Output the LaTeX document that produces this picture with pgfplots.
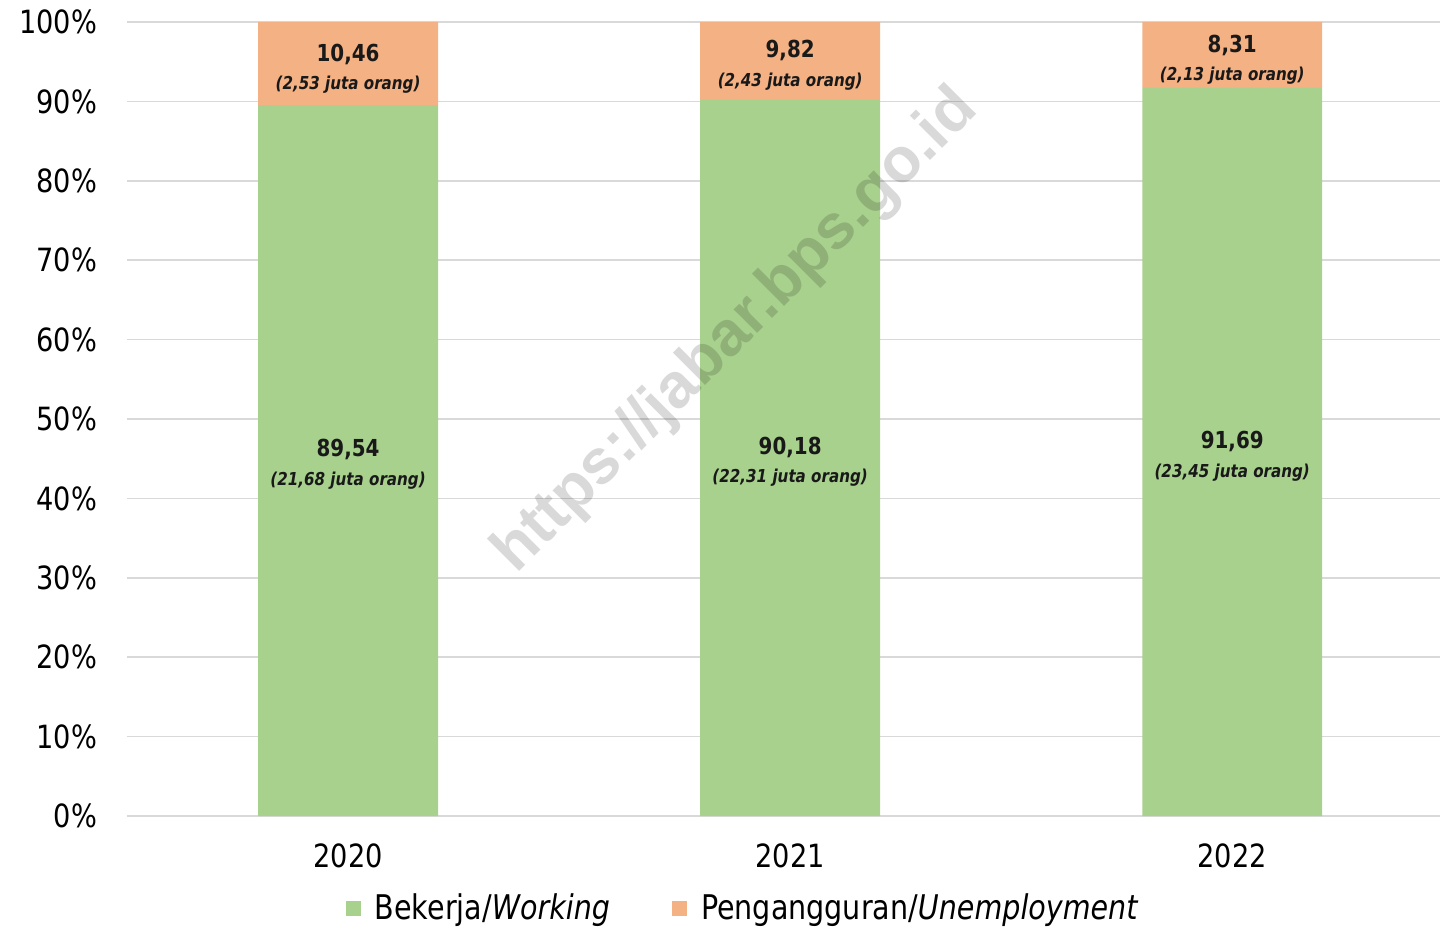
\documentclass[border=0pt]{standalone}
\usepackage{pgfplots}
\pgfplotsset{compat=1.18}
\usepackage{fontspec}
\setmainfont{DejaVu Sans}[FakeStretch=0.85]
\newfontfamily\legfont{DejaVu Sans}[FakeStretch=0.84]
\newfontfamily\wmfont{Liberation Sans}
\definecolor{work}{HTML}{A9D18E}
\definecolor{unemp}{HTML}{F4B183}
\definecolor{gridc}{HTML}{D9D9D9}
\begin{document}
\begin{tikzpicture}
\path[use as bounding box] (-63.5pt,-55.5pt) rectangle (657pt,408pt);
\begin{axis}[
  at={(0,0)}, anchor=south west,
  scale only axis, width=656.5pt, height=397pt,
  ybar stacked, bar width=0.407,
  xmin=-0.5, xmax=2.47, ymin=0, ymax=100,
  xtick={0,1,2}, xticklabels={2020,2021,2022},
  ytick={0,10,...,100},
  yticklabel={\pgfmathprintnumber{\tick}\%},
  /pgf/number format/assume math mode=true,
  major tick length=0,
  ymajorgrids, grid style={color=gridc, line width=0.75pt},
  axis line style={draw=none},
  ticklabel style={font=\fontsize{16}{19}\selectfont},
  yticklabel style={xshift=-11.5pt},
  xticklabel style={yshift=-10.5pt},
  legend style={at={(0.470,0)}, anchor=center, yshift=-46pt, draw=none,
    legend columns=2, font=\legfont\fontsize{17}{20}\selectfont,
    /tikz/every odd column/.append style={column sep=5pt},
    /tikz/every even column/.append style={column sep=29pt}},
  legend image code/.code={\fill[#1] (0pt,-4pt) rectangle (7.5pt,3.5pt);},
  clip=false,
]
\addplot[fill=work, draw=none] coordinates {(0,89.54) (1,90.18) (2,91.69)};
\addlegendentry{Bekerja/\textit{Working}}
\addplot[fill=unemp, draw=none] coordinates {(0,10.46) (1,9.82) (2,8.31)};
\addlegendentry{Pengangguran/\textit{Unemployment}}

\coordinate (wm) at (axis cs:0.879,61.0);
\coordinate (u0) at (axis cs:0,95.95);
\coordinate (us0) at (axis cs:0,92.05);
\coordinate (w0) at (axis cs:0,46.2);
\coordinate (ws0) at (axis cs:0,42.2);
\coordinate (u1) at (axis cs:1,96.35);
\coordinate (us1) at (axis cs:1,92.45);
\coordinate (w1) at (axis cs:1,46.45);
\coordinate (ws1) at (axis cs:1,42.6);
\coordinate (u2) at (axis cs:2,97.1);
\coordinate (us2) at (axis cs:2,93.2);
\coordinate (w2) at (axis cs:2,47.2);
\coordinate (ws2) at (axis cs:2,43.2);
\end{axis}

\node[rotate=45, font=\wmfont\bfseries\fontsize{31.5}{36}\selectfont, text=black, text opacity=0.15] at (wm) {https://jabar.bps.go.id};

\tikzset{val/.style={font=\bfseries\fontsize{11.7}{14}\selectfont, text=black!90},
         sub/.style={font=\bfseries\itshape\fontsize{8.9}{11}\selectfont, text=black!90}}
\node[val] at (u0) {10,46};
\node[sub] at (us0) {(2,53 juta orang)};
\node[val] at (w0) {89,54};
\node[sub] at (ws0) {(21,68 juta orang)};
\node[val] at (u1) {9,82};
\node[sub] at (us1) {(2,43 juta orang)};
\node[val] at (w1) {90,18};
\node[sub] at (ws1) {(22,31 juta orang)};
\node[val] at (u2) {8,31};
\node[sub] at (us2) {(2,13 juta orang)};
\node[val] at (w2) {91,69};
\node[sub] at (ws2) {(23,45 juta orang)};
\end{tikzpicture}
\end{document}
